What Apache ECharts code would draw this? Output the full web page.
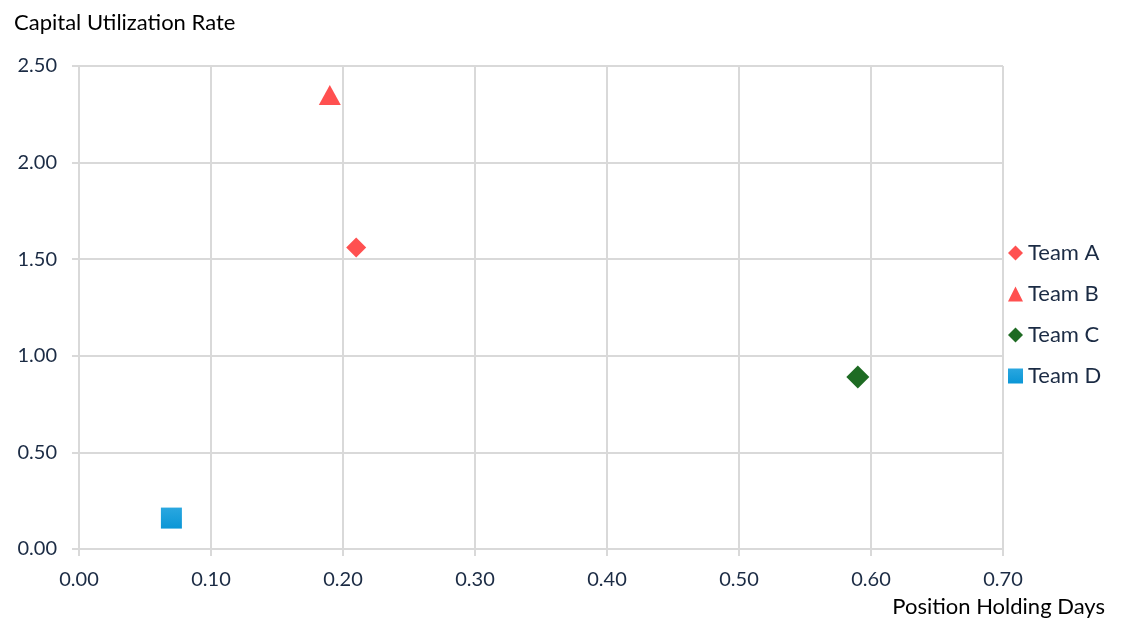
<!DOCTYPE html>
<html><head><meta charset="utf-8">
<script src="https://cdn.jsdelivr.net/npm/echarts@6/dist/echarts.min.js"></script>
<style>html,body{margin:0;padding:0;background:#fff}#c{width:1124px;height:632px}</style>
</head><body><div id="c"></div>
<script>
const teams = ['Team A','Team B','Team C','Team D'];
const holdingDays = [0.21, 0.19, 0.59, 0.07];
const utilization = [1.56, 2.35, 0.89, 0.16];
const symbols = ['diamond','triangle','diamond','rect'];
const sizes = [[20,20],[22,20],[23,23],[21,21]];
const colors = ['#ff5050','#ff5050','#1e6b23',
  {type:'linear',x:0,y:0,x2:0,y2:1,colorStops:[{offset:0,color:'#2aa7e0'},{offset:1,color:'#0a96d6'}]}];
const xTicks = {min:0,max:0.7,interval:0.1};
const yTicks = {min:0,max:2.5,interval:0.5};
const FONT = 'Lato';
const chart = echarts.init(document.getElementById('c'));
chart.setOption({
  animation:false,
  textStyle:{fontFamily:FONT},
  title:{text:'Capital Utilization Rate',left:9,top:7,textStyle:{fontFamily:FONT,fontSize:22,fontWeight:'normal',color:'#000'}},
  grid:{left:79,right:121,top:66,bottom:83},
  legend:{orient:'vertical',left:1003,top:237,itemGap:19,itemWidth:15,itemHeight:15,padding:5,
    textStyle:{fontFamily:FONT,fontSize:22,lineHeight:22,color:'#1b2b44'},
    data:teams.map((t,i)=>({name:t,icon:symbols[i]}))},
  xAxis:{type:'value',min:xTicks.min,max:xTicks.max,interval:xTicks.interval,
    name:'Position Holding Days',nameLocation:'end',nameGap:0,
    nameTextStyle:{fontFamily:FONT,fontSize:22,color:'#000',align:'right',verticalAlign:'top',padding:[47,-102,0,0]},
    axisLine:{show:true,lineStyle:{color:'#d9d9d9',width:2}},
    axisTick:{show:true,length:7,lineStyle:{color:'#d9d9d9',width:2}},
    splitLine:{show:true,lineStyle:{color:'#d9d9d9',width:2}},
    axisLabel:{margin:21,fontSize:20,color:'#1b2b44',fontFamily:FONT,formatter:v=>v.toFixed(2)}},
  yAxis:{type:'value',min:yTicks.min,max:yTicks.max,interval:yTicks.interval,
    axisLine:{show:true,lineStyle:{color:'#d9d9d9',width:2}},
    axisTick:{show:true,length:7,lineStyle:{color:'#d9d9d9',width:2}},
    splitLine:{show:true,lineStyle:{color:'#d9d9d9',width:2}},
    axisLabel:{margin:22,fontSize:20,color:'#1b2b44',fontFamily:FONT,formatter:v=>v.toFixed(2)}},
  series:teams.map((t,i)=>({
    name:t,type:'scatter',symbol:symbols[i],symbolSize:sizes[i],
    itemStyle:{color:colors[i],opacity:1},
    data:[[holdingDays[i],utilization[i]]]
  }))
});
</script></body></html>
